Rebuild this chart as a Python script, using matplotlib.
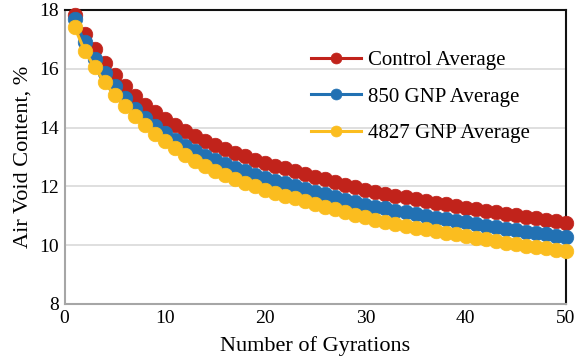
import matplotlib
matplotlib.use("Agg")
import matplotlib.pyplot as plt

plt.rcParams['font.family'] = ['Liberation Serif', 'DejaVu Serif']

gyrations = list(range(1, 51))

control_avg = [17.83, 17.18, 16.67, 16.20, 15.79, 15.41, 15.07, 14.78, 14.52, 14.29,
               14.08, 13.89, 13.72, 13.56, 13.41, 13.27, 13.14, 13.02, 12.91, 12.81,
               12.71, 12.61, 12.51, 12.42, 12.33, 12.24, 12.15, 12.06, 11.97, 11.89,
               11.82, 11.75, 11.69, 11.63, 11.56, 11.50, 11.44, 11.39, 11.33, 11.28,
               11.23, 11.17, 11.12, 11.07, 11.02, 10.96, 10.91, 10.86, 10.81, 10.76]

gnp850_avg = [17.69, 16.91, 16.33, 15.86, 15.40, 15.00, 14.63, 14.32, 14.05, 13.81,
              13.59, 13.39, 13.21, 13.05, 12.90, 12.76, 12.63, 12.51, 12.40, 12.30,
              12.20, 12.10, 12.00, 11.91, 11.82, 11.73, 11.64, 11.55, 11.46, 11.38,
              11.31, 11.25, 11.18, 11.12, 11.06, 11.00, 10.94, 10.88, 10.83, 10.78,
              10.72, 10.67, 10.61, 10.56, 10.51, 10.46, 10.41, 10.37, 10.32, 10.28]

gnp4827_avg = [17.42, 16.62, 16.06, 15.54, 15.10, 14.73, 14.40, 14.09, 13.79, 13.53,
               13.29, 13.07, 12.87, 12.70, 12.54, 12.39, 12.25, 12.12, 12.00, 11.89,
               11.79, 11.69, 11.59, 11.49, 11.40, 11.31, 11.22, 11.13, 11.04, 10.95,
               10.87, 10.80, 10.73, 10.66, 10.60, 10.54, 10.48, 10.42, 10.37, 10.32,
               10.26, 10.20, 10.14, 10.09, 10.04, 9.98, 9.93, 9.89, 9.84, 9.80]

series = [
    ("Control Average", control_avg, "#C1231B"),
    ("850 GNP Average", gnp850_avg, "#2271B3"),
    ("4827 GNP Average", gnp4827_avg, "#FBBD1F"),
]

fig = plt.figure(figsize=(5.83, 3.63), dpi=100)
ax = fig.add_axes([64.5 / 583, 1 - 304 / 363, (566 - 64.5) / 583, (304 - 10) / 363])

for label, values, color in series:
    ax.plot(gyrations, values, color=color, lw=2.2, marker="o", markersize=10.5,
            markeredgecolor=color, markeredgewidth=0.5, label=label, clip_on=False,
            zorder=3)

ax.set_xlim(0, 50)
ax.set_ylim(8, 18)
ax.set_xticks(range(0, 51, 10))
ax.set_yticks(range(8, 19, 2))
ax.yaxis.grid(True, color="#D9D9D9", lw=1.2)
ax.set_axisbelow(True)
ax.tick_params(length=0, labelsize=14, pad=4)

for side in ("left", "bottom"):
    ax.spines[side].set_color("#A6A6A6")
    ax.spines[side].set_linewidth(1.5)
for side in ("top", "right"):
    ax.spines[side].set_color("#111111")
    ax.spines[side].set_linewidth(1.5)

ax.set_xlabel("Number of Gyrations", fontsize=16, labelpad=7)
ax.set_ylabel("Air Void Content, %", fontsize=16, labelpad=5)

leg = ax.legend(loc="upper left", bbox_to_anchor=(0.455, 0.925), frameon=False,
                fontsize=15, handlelength=2.4, handletextpad=0.3,
                labelspacing=0.8, markerscale=0.75)

fig.savefig("out.png", dpi=100)
